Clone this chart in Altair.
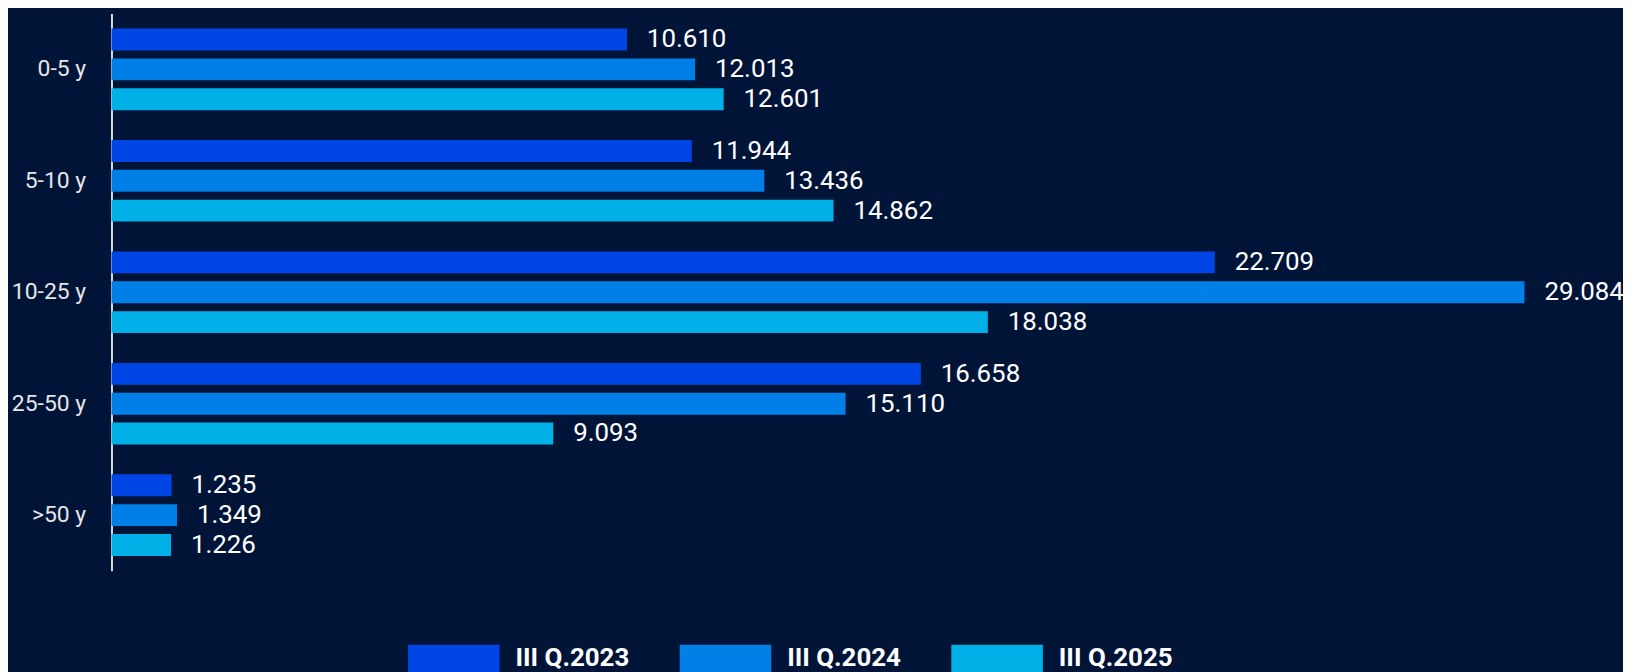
import altair as alt
import pandas as pd

groups = ["0-5 y", "5-10 y", "10-25 y", "25-50 y", ">50 y"]
series = ["III Q.2023", "III Q.2024", "III Q.2025"]
q2023 = [10.610, 11.944, 22.709, 16.658, 1.235]
q2024 = [12.013, 13.436, 29.084, 15.110, 1.349]
q2025 = [12.601, 14.862, 18.038, 9.093, 1.226]
colors = ["#0046E6", "#0080E6", "#00B0E6"]

rows = []
for s, vals in zip(series, [q2023, q2024, q2025]):
    for g, v in zip(groups, vals):
        rows.append({"group": g, "series": s, "value": v})
df = pd.DataFrame(rows)

FONT = "Roboto"
BG = "#001438"

base = alt.Chart(df).encode(
    y=alt.Y(
        "group:N",
        sort=groups,
        scale=alt.Scale(paddingInner=0, paddingOuter=0),
        axis=alt.Axis(
            title=None, ticks=False, tickSize=0, domain=True,
            domainColor="#d9d9d9", domainWidth=2, labelPadding=26,
            labelFont=FONT, labelFontSize=23, labelColor="#e6e6e6", grid=False,
        ),
    ),
    yOffset=alt.YOffset(
        "series:N", sort=series,
        scale=alt.Scale(paddingInner=0.2667, paddingOuter=0.5),
    ),
)

bars = base.mark_bar(cornerRadius=0).encode(
    x=alt.X("value:Q", scale=alt.Scale(domain=[0, 29.084], nice=False, zero=True), axis=None),
    color=alt.Color(
        "series:N", sort=series,
        scale=alt.Scale(domain=series, range=colors),
        legend=alt.Legend(
            title=None, orient="none", legendX=298, legendY=602,
            direction="horizontal",
            symbolType="M-1,-0.3H1V0.3H-1Z", symbolSize=8464,
            symbolStrokeWidth=0, symbolOpacity=1,
            labelFont=FONT, labelFontSize=26, labelFontWeight="bold",
            labelColor="white", labelOffset=16, columnPadding=50, padding=0,
        ),
    ),
)

text = base.mark_text(
    align="left", baseline="middle", dx=20, font=FONT, fontSize=26, color="white"
).encode(
    x=alt.X("value:Q"),
    text=alt.Text("value:Q", format=".3f"),
)

chart = (
    alt.layer(bars, text)
    .properties(
        width=1420, height=560,
        autosize=alt.AutoSizeParams(type="none"),
        padding={"left": 104, "top": 4, "right": 99, "bottom": 100},
        background=BG,
    )
    .configure_view(stroke=None)
)

chart.save("out.html", embed_options={"renderer": "svg", "actions": False})
